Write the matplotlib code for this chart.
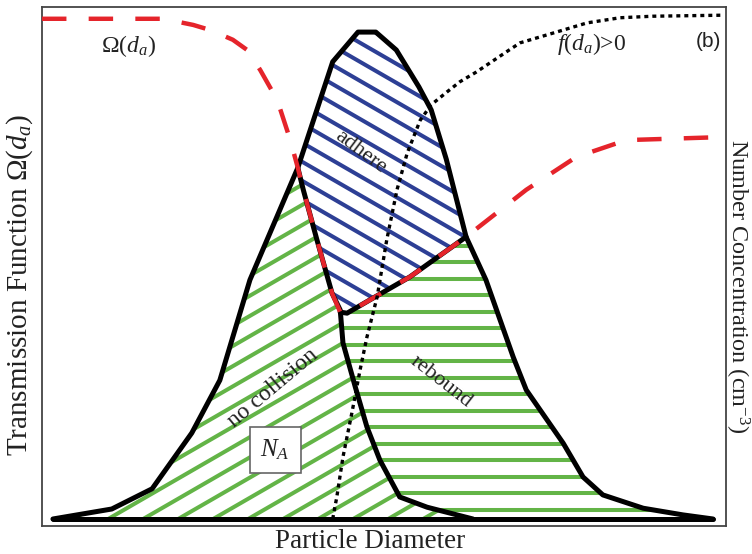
import numpy as np
import matplotlib
matplotlib.use("Agg")
import matplotlib.pyplot as plt
from matplotlib.patches import Polygon
from matplotlib.collections import LineCollection

plt.rcParams['font.family'] = ['Liberation Serif', 'DejaVu Serif']
plt.rcParams['mathtext.fontset'] = 'custom'
plt.rcParams['mathtext.rm'] = 'Liberation Serif'
plt.rcParams['mathtext.it'] = 'Liberation Serif:italic'

# total size distribution (outer envelope), arbitrary units
outer_x = [1.6, 10.2, 16.1, 21.9, 26.0, 30.4, 37.4, 42.5, 46.2, 48.8, 51.8, 55.1,
           56.9, 59.1, 62.0, 64.9, 68.9, 70.8, 76.2, 79.1, 82.0, 87.9, 93.7, 98.1]
outer_y = [0.0, 1.95, 5.9, 16.8, 27.1, 46.7, 68.6, 89.3, 95.1, 95.1, 91.6, 84.4,
           79.9, 70.3, 55.1, 46.7, 31.6, 25.2, 14.8, 8.2, 4.7, 2.1, 0.8, 0.0]

# particles that never hit the impactor
inner_x = [37.4, 38.2, 40.2, 42.4, 43.6, 44.0, 45.8, 47.5, 49.4, 52.3, 56.3, 63.0]
inner_y = [68.6, 64.3, 54.5, 44.1, 40.8, 34.4, 25.8, 18.0, 11.5, 4.3, 2.3, 0.0]

# transmission function Omega(d_a)
omega_x = [0.0, 17.7, 22.1, 24.6, 27.9, 30.0, 31.9, 34.4, 36.3, 37.4, 38.2, 40.2,
           42.4, 43.6, 44.6, 47.95, 53.8, 62.0, 70.8, 78.1, 85.4, 99.6]
omega_y = [97.7, 97.7, 96.5, 95.5, 93.6, 91.6, 87.7, 81.8, 74.0, 68.6, 64.3, 54.5,
           44.1, 40.4, 40.2, 42.8, 47.3, 55.1, 64.3, 70.7, 74.0, 74.6]

# f(d_a) > 0 curve
f_x = [42.5, 43.1, 44.0, 45.3, 46.5, 47.5, 49.0, 50.4, 51.9, 53.4, 55.3, 56.9,
       59.2, 61.1, 63.5, 68.3, 69.9, 74.7, 79.7, 84.5, 89.3, 99.6]
f_y = [0.0, 4.3, 12.1, 20.7, 29.1, 35.5, 43.4, 54.5, 64.3, 71.5, 77.9, 80.9,
       83.4, 85.4, 87.3, 91.6, 93.0, 94.9, 96.9, 97.9, 98.2, 98.4]

# where the curves meet: J = top of inner curve, K = Omega crossing outer
J_OUT, K_OUT = 6, 14
J_OM, C_OM, K_OM = 9, 13, 17
C_IN = 4

GREEN = '#63b447'
BLUE = '#2d3f95'
RED = '#e5242b'
INK = '#222222'

fig = plt.figure(figsize=(7.52, 5.54), dpi=100)
ax = fig.add_axes([42 / 752, 28 / 554, 684 / 752, 519 / 554])
ax.set_xlim(0, 100)
ax.set_ylim(-1.37, 100)
ax.set_xticks([])
ax.set_yticks([])
for sp in ax.spines.values():
    sp.set_color('#444444')
    sp.set_linewidth(1.3)

# pixels per data unit, for evenly spaced hatch lines
sx = fig.dpi * fig.get_figwidth() * ax.get_position().width / 100.0
sy = fig.dpi * fig.get_figheight() * ax.get_position().height / 101.37


def hatch(verts, angle, spacing, color, lw=2.9):
    patch = Polygon(verts, closed=True, fc='none', ec='none')
    ax.add_patch(patch)
    W, H = 100 * sx, 101.37 * sy
    t = np.radians(angle)
    d = np.array([np.cos(t), np.sin(t)])
    n = np.array([-np.sin(t), np.cos(t)])
    corners = np.array([[0, 0], [W, 0], [0, H], [W, H]])
    proj = corners @ n
    L = W + H
    segs = []
    for o in np.arange(proj.min() - spacing, proj.max() + spacing, spacing):
        p0 = o * n - L * d
        p1 = o * n + L * d
        segs.append([(p0[0] / sx, p0[1] / sy - 1.37), (p1[0] / sx, p1[1] / sy - 1.37)])
    lc = LineCollection(segs, colors=color, linewidths=lw, zorder=1)
    ax.add_collection(lc)
    lc.set_clip_path(patch)


# no collision region: left flank of outer curve + inner curve
nocol = list(zip(outer_x[:J_OUT + 1], outer_y[:J_OUT + 1])) + list(zip(inner_x[1:], inner_y[1:]))
hatch(nocol, 30, 17.5, GREEN)

# adhere region: outer curve J..K above Omega
adhere = list(zip(outer_x[J_OUT:K_OUT + 1], outer_y[J_OUT:K_OUT + 1])) + \
    list(zip(omega_x[J_OM:K_OM][::-1], omega_y[J_OM:K_OM][::-1]))
hatch(adhere, -30, 16.5, BLUE)

# rebound region: below Omega, between inner and outer curves
rebound = list(zip(omega_x[C_OM:K_OM + 1], omega_y[C_OM:K_OM + 1])) + \
    list(zip(outer_x[K_OUT + 1:], outer_y[K_OUT + 1:])) + \
    list(zip(inner_x[C_IN:][::-1], inner_y[C_IN:][::-1]))
hatch(rebound, 0, 16.5, GREEN)

blk = dict(color='black', lw=3.6, solid_joinstyle='round', solid_capstyle='round', zorder=3)
ax.plot(outer_x, outer_y, **blk)
ax.plot(inner_x, inner_y, **blk)
ax.plot(omega_x[C_OM:K_OM + 1], omega_y[C_OM:K_OM + 1], **blk)
ax.plot([outer_x[0], outer_x[-1]], [0, 0], **blk)

ax.plot(omega_x, omega_y, color=RED, lw=3.2, ls=(0, (5.5, 5)), zorder=4)
ax.plot(f_x, f_y, color='black', lw=2.4, ls=(0, (1.2, 1.2)), zorder=4)

ax.text(12.6, 92.4, r'Ω($d_a$)', fontsize=17, color=INK, ha='center', va='center')
ax.text(80.4, 92.8, r'$f$($d_a$)>0', fontsize=17, color=INK, ha='center', va='center')
ax.text(97.4, 93.2, '(b)', fontsize=15, family='Liberation Sans', color=INK,
        ha='center', va='center')
ax.text(46.6, 71.7, 'adhere', fontsize=16, color=INK, rotation=-37,
        ha='center', va='center', rotation_mode='anchor', zorder=5)
ax.text(33.8, 25.6, 'no collision', fontsize=17, color=INK, rotation=40,
        ha='center', va='center', rotation_mode='anchor', zorder=5)
ax.text(58.3, 26.8, 'rebound', fontsize=16, color=INK, rotation=-38,
        ha='center', va='center', rotation_mode='anchor', zorder=5)
ax.text(34.1, 13.5, r'$N_A$', fontsize=18, color=INK, ha='center', va='center', zorder=5,
        bbox=dict(boxstyle='square,pad=0.42', fc='white', ec='#666666', lw=1.2))

fig.text(370 / 752, 1 - 541 / 554, 'Particle Diameter', fontsize=19.5, color=INK,
         ha='center', va='center')
fig.text(20 / 752, 1 - 285 / 554, r'Transmission Function Ω($d_a$)', fontsize=21,
         color=INK, rotation=90, ha='center', va='center')
fig.text(737 / 752, 1 - 286 / 554, r'Number Concentration (cm$^{-3}$)', fontsize=17.5,
         color=INK, rotation=-90, ha='center', va='center')

fig.savefig('out.png', dpi=100)
